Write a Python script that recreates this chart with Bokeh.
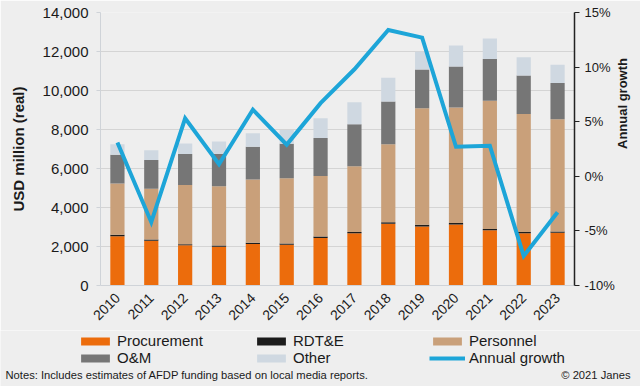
import math
from bokeh.plotting import figure
from bokeh.layouts import column
from bokeh.models import (Range1d, LinearAxis, FactorRange, Legend, LegendItem, Label,
                          NumeralTickFormatter, PrintfTickFormatter, SingleIntervalTicker,
                          ColumnDataSource)
from bokeh.embed import file_html
from bokeh.resources import INLINE

years = [str(y) for y in range(2010, 2024)]
procurement = [2530, 2290, 2060, 1990, 2130, 2090, 2440, 2680, 3170, 3030, 3130, 2830, 2680, 2700]
rdte = [70, 70, 60, 60, 60, 60, 70, 70, 80, 80, 80, 70, 70, 70]
personnel = [2630, 2600, 3040, 3040, 3250, 3350, 3100, 3370, 4000, 5980, 5920, 6570, 6050, 5760]
om = [1470, 1470, 1580, 1650, 1670, 1770, 1950, 2150, 2190, 1990, 2100, 2150, 1970, 1860]
other = [550, 510, 540, 640, 700, 710, 1020, 1130, 1210, 910, 1080, 1050, 940, 930]
growth = [3.1, -4.2, 5.3, 1.1, 6.1, 2.9, 6.7, 9.8, 13.4, 12.7, 2.7, 2.8, -7.3, -3.3]

series = ["Procurement", "RDT&E", "Personnel", "O&M", "Other"]
growth_name = "Annual growth"
colors = ["#ec6c0c", "#1c1c1c", "#c9a07a", "#767676", "#cfd8e1"]
growth_color = "#1da5d8"
BG = "#eeeeee"
FONT = "Liberation Sans"
TXT = "#1a1a1a"

src = ColumnDataSource(dict(year=years, Procurement=procurement, **{"RDT&E": rdte},
                            Personnel=personnel, **{"O&M": om}, Other=other, growth=growth))

p = figure(x_range=FactorRange(factors=years), y_range=Range1d(0, 14000),
           width=640, height=330, output_backend="svg", toolbar_location=None,
           min_border_left=100, min_border_right=63, min_border_top=12, min_border_bottom=45,
           background_fill_color=BG, border_fill_color=BG, outline_line_color=None)

bars = p.vbar_stack(series, x="year", width=0.42, color=colors, line_color=None, source=src)

p.extra_y_ranges = {"g": Range1d(-10, 15)}
gl = p.line(x="year", y="growth", y_range_name="g", line_color=growth_color, line_width=4,
            line_join="miter", source=src)

# left axis
ya = p.yaxis[0]
ya.ticker = SingleIntervalTicker(interval=2000)
ya.formatter = NumeralTickFormatter(format="0,0")
ya.axis_label = "USD million (real)"
ya.axis_label_text_font = FONT
ya.axis_label_text_font_style = "bold"
ya.axis_label_text_font_size = "15px"
ya.axis_label_text_color = TXT
ya.axis_label_standoff = 13
ya.major_label_text_font = FONT
ya.major_label_text_font_size = "15px"
ya.major_label_text_color = TXT
ya.major_label_standoff = 8
ya.axis_line_color = "#cfd3d8"
ya.major_tick_line_color = "#cfd3d8"
ya.major_tick_out = 4
ya.major_tick_in = 0
ya.minor_tick_line_color = None

# x axis
xa = p.xaxis[0]
xa.major_label_orientation = math.pi / 4
xa.major_label_text_font = FONT
xa.major_label_text_font_size = "14px"
xa.major_label_text_color = TXT
xa.axis_line_color = "#cfd3d8"
xa.major_tick_line_color = None
xa.major_label_standoff = 4

# right axis
ra = LinearAxis(y_range_name="g", ticker=SingleIntervalTicker(interval=5),
                formatter=PrintfTickFormatter(format="%d%%"))
ra.axis_line_color = "#222222"
ra.axis_line_width = 1.5
ra.major_tick_line_color = "#222222"
ra.major_tick_out = 5
ra.major_tick_in = 0
ra.minor_tick_line_color = None
ra.major_label_text_font = FONT
ra.major_label_text_font_size = "13px"
ra.major_label_text_color = TXT
ra.major_label_standoff = 5
ra.axis_label = growth_name
ra.axis_label_text_font = FONT
ra.axis_label_text_font_style = "bold"
ra.axis_label_text_font_size = "13px"
ra.axis_label_text_color = TXT
ra.axis_label_standoff = 5
if "axis_label_orientation" in LinearAxis.properties():
    ra.axis_label_orientation = math.pi / 2
p.add_layout(ra, "right")

p.xgrid.grid_line_color = None
p.ygrid.grid_line_color = "#d4d4d4"
p.ygrid.grid_line_width = 1

# legend + notes strip (full-width frame)
p2 = figure(width=640, height=56, output_backend="svg", toolbar_location=None,
            x_range=FactorRange(factors=years), y_range=Range1d(0, 1),
            min_border_left=0, min_border_right=0, min_border_top=0, min_border_bottom=0,
            background_fill_color=BG, border_fill_color=BG, outline_line_color=None)
p2.axis.visible = False
p2.grid.visible = False
if "frame_align" in p2.properties():
    p.frame_align = False
    p2.frame_align = False

# legend keys mirror the chart's series (hidden in this strip; they only feed the legend)
keys = [p2.vbar(x="year", top=s, width=0.42, color=c, line_color=None, source=src, visible=False)
        for s, c in zip(series, colors)]
gkey = p2.line(x="year", y="growth", line_color=growth_color, line_width=4, source=src,
               visible=False)

items = [LegendItem(label=s, renderers=[r]) for s, r in zip(series, keys)]
items.append(LegendItem(label=growth_name, renderers=[gkey]))
lg = Legend(items=items, location=(77, 20), orientation="horizontal", ncols=3,
            glyph_width=36, glyph_height=10, label_width=136, label_height=17,
            label_standoff=4, spacing=0, padding=0, margin=0,
            border_line_color=None, background_fill_alpha=0, inactive_fill_alpha=0,
            label_text_font=FONT, label_text_font_size="15px", label_text_color=TXT)
p2.add_layout(lg)

p2.add_layout(Label(x=5, y=12, x_units="screen", y_units="screen",
                    text="Notes: Includes estimates of AFDP funding based on local media reports.",
                    text_baseline="middle", text_font=FONT, text_font_size="11.2px",
                    text_color=TXT))
p2.add_layout(Label(x=630, y=12, x_units="screen", y_units="screen",
                    text="\u00a9 2021 Janes", text_align="right",
                    text_baseline="middle", text_font=FONT, text_font_size="11.2px",
                    text_color=TXT))

layout = column(p, p2, spacing=0)
open("out.html", "w").write(file_html(layout, INLINE))
